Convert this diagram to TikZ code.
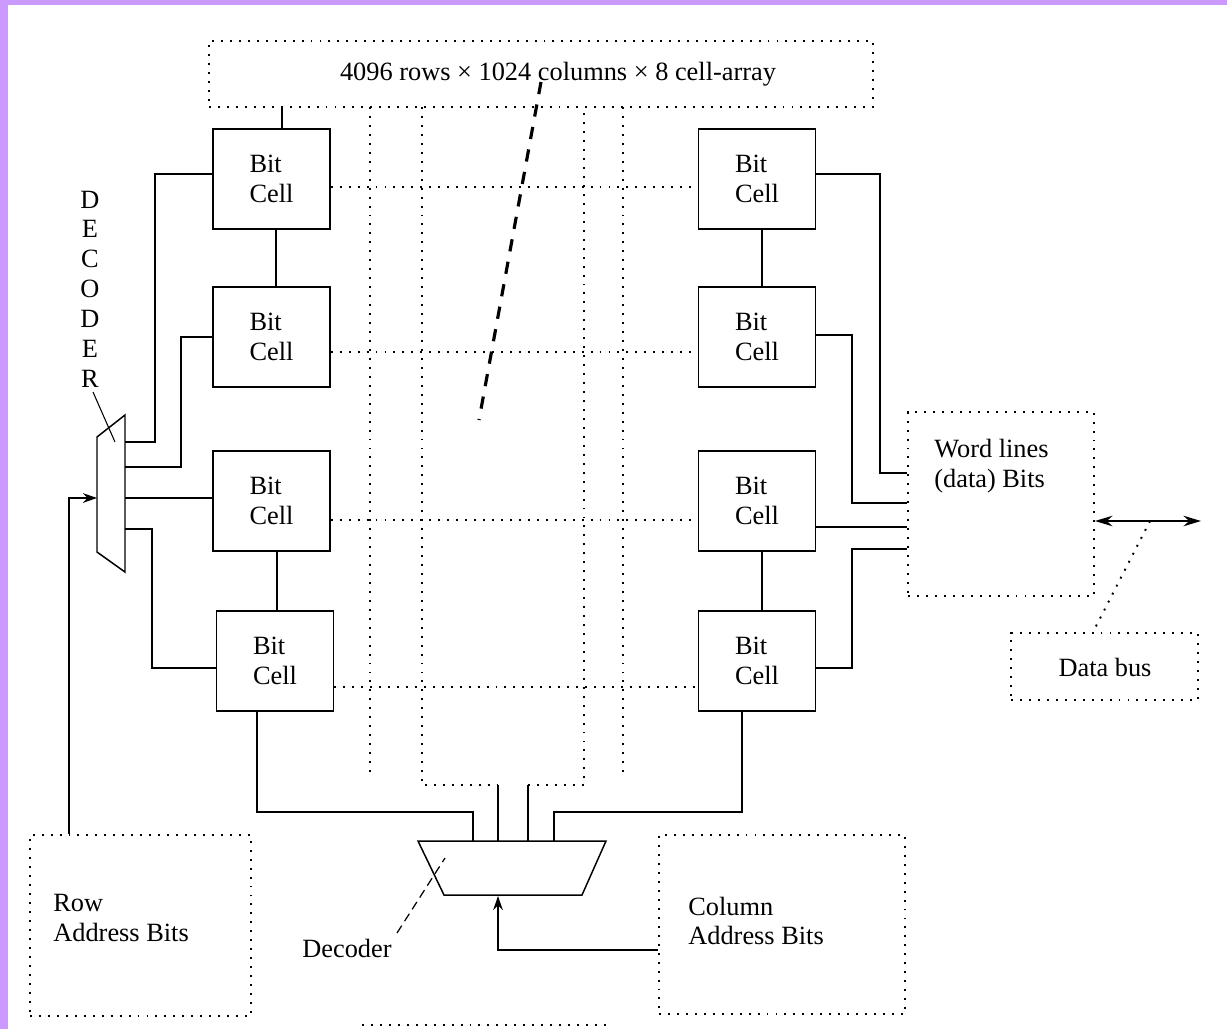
\documentclass[tikz,border=0pt]{standalone}
\usepackage{fontspec}
\setmainfont{Liberation Serif}
\usetikzlibrary{arrows.meta,calc}
\definecolor{framepurple}{HTML}{CC99FF}
\begin{document}
\begin{tikzpicture}[x=0.02cm,y=-0.02cm,
  every node/.style={font=\fontsize{15}{17}\selectfont, inner sep=0pt},
  ln/.style={line width=0.85pt},
  dotln/.style={line width=1.1pt, dash pattern=on 1.1pt off 4pt},
  cell/.style={draw, line width=0.85pt, minimum width=2.34cm, minimum height=2cm, align=left},
  dotbox/.style={draw, dotln},
  tip/.style={-{Stealth[length=8pt,width=5.5pt]}},
  bitip/.style={{Stealth[length=10pt,width=6pt]}-{Stealth[length=10pt,width=6pt]}}
]
\useasboundingbox (0,0) rectangle (1227,1029);
\fill[white] (0,0) rectangle (1227,1029);
\fill[framepurple] (0,0) rectangle (1227,5);
\fill[framepurple] (0,0) rectangle (8,1029);

% top array box
\node[dotbox, minimum width=13.28cm, minimum height=1.32cm] (top) at (541,74) {};
\node (toptxt) at (558,74) {4096 rows × 1024 columns × 8 cell-array};

% grid dotted lines
\draw[dotln] (370,107) -- (370,775);
\draw[dotln] (623,107) -- (623,775);
\draw[dotln] (422,107) -- (422,785) -- (498,785);
\draw[dotln] (528,785) -- (584,785) -- (584,107);

% cells
\node[cell] (L1) at (271.5,179) {Bit\\Cell};
\node[cell] (L2) at (271.5,337) {Bit\\Cell};
\node[cell] (L3) at (271.5,501) {Bit\\Cell};
\node[cell] (L4) at (275,661) {Bit\\Cell};
\node[cell] (R1) at (757,179) {Bit\\Cell};
\node[cell] (R2) at (757,337) {Bit\\Cell};
\node[cell] (R3) at (757,501) {Bit\\Cell};
\node[cell] (R4) at (757,661) {Bit\\Cell};

% horizontal dotted rows
\draw[dotln] (L1.east |- 0,187) -- (R1.west |- 0,187);
\draw[dotln] (L2.east |- 0,352) -- (R2.west |- 0,352);
\draw[dotln] (L3.east |- 0,520) -- (R3.west |- 0,520);
\draw[dotln] (L4.east |- 0,687) -- (R4.west |- 0,687);

% thick dashed pointer
\draw[line width=1.8pt, dash pattern=on 7pt off 6pt] (541,82) -- (479,420);

% vertical links
\draw[ln] (top.south -| 282,0) -- (L1.north -| 282,0);
\draw[ln] (L1.south -| 276,0) -- (L2.north -| 276,0);
\draw[ln] (L3.south -| 277,0) -- (L4.north -| 277,0);
\draw[ln] (R1.south -| 762,0) -- (R2.north -| 762,0);
\draw[ln] (R3.south -| 762,0) -- (R4.north -| 762,0);

% row decoder
\draw[ln] (97,437) -- (125,415) -- (125,572) -- (97,552) -- cycle;
\coordinate (dl1) at (125,442);
\coordinate (dl2) at (125,467);
\coordinate (dl3) at (125,498);
\coordinate (dl4) at (125,529);
\coordinate (dlin) at (97,498);
\node[align=center] (declet) at (90,289) {D\\E\\C\\O\\D\\E\\R};
\draw[line width=0.6pt] (93,392) -- (115,442);

\draw[ln] (dl1) -- (155,442) |- ($(L1.west)+(0,-5)$);
\draw[ln] (dl2) -- (181,467) |- (L2.west);
\draw[ln] (dl3) -- (dl3 -| L3.west);
\draw[ln] (dl4) -- (152,529) |- ($(L4.west)+(0,7)$);

% row address
\node[dotbox, minimum width=4.42cm, minimum height=3.62cm] (rab) at (140.5,925.5) {};
\node[anchor=west, align=left] (rabt) at (53,918) {Row\\Address Bits};
\draw[ln, tip] (rab.north -| 69,0) |- (dlin);

% right side
\node[dotbox, minimum width=3.72cm, minimum height=3.68cm] (wl) at (1001,504) {};
\node[anchor=west, align=left] (wlt) at (934,466) {Word lines\\(data) Bits};
\draw[ln] ($(R1.east)+(0,-5)$) -- (880,174) |- (wl.west |- 0,473);
\draw[ln] ($(R2.east)+(0,-2)$) -- (852,335) |- (wl.west |- 0,503);
\draw[ln] (R3.east |- 0,527) -- (wl.west |- 0,527);
\draw[ln] ($(R4.east)+(0,7)$) -- (852,668) |- (wl.west |- 0,549);

\node[dotbox, minimum width=3.74cm, minimum height=1.34cm] (db) at (1104.5,666.5) {};
\node (dbt) at (1105,667) {Data bus};
\coordinate (busend) at (1201,521);
\draw[ln, bitip] (wl.east |- 0,521) -- (busend);
\draw[dotln] (1150,521) -- (db.north -| 1093,0);

% column decoder
\draw[ln] (418,841) -- (606,841) -- (582,895) -- (444,895) -- cycle;
\draw[ln] (L4.south -| 257,0) |- (473,812) -- (473,841);
\draw[ln] (R4.south -| 742,0) |- (554,812) -- (554,841);
\draw[ln] (498,785) -- (498,841);
\draw[ln] (528,785) -- (528,841);

\node[dotbox, minimum width=4.92cm, minimum height=3.58cm] (cab) at (782,924.5) {};
\node[anchor=west, align=left] (cabt) at (688,921) {Column\\Address Bits};
\draw[ln, tip] (cab.west |- 0,950) -| (498,896);

\node (declbl) at (347,948) {Decoder};
\draw[line width=0.7pt, dash pattern=on 5pt off 3pt] (397,933) -- (445,858);

% partial box at bottom
\draw[dotln] (362,1025) -- (606,1025);
\end{tikzpicture}
\end{document}
